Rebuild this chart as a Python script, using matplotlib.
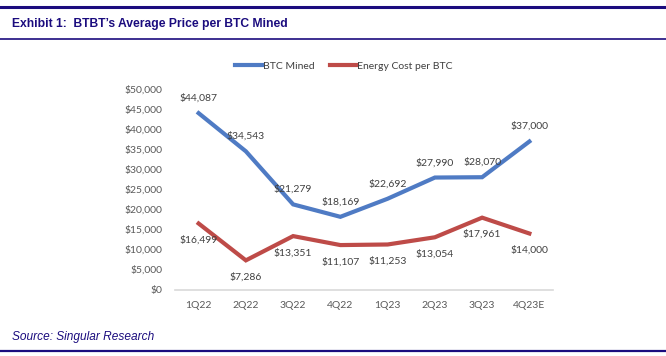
import matplotlib.pyplot as plt
from matplotlib.lines import Line2D

quarters = ['1Q22', '2Q22', '3Q22', '4Q22', '1Q23', '2Q23', '3Q23', '4Q23E']
btc_mined = [44087, 34543, 21279, 18169, 22692, 27990, 28070, 37000]
energy_cost = [16499, 7286, 13351, 11107, 11253, 13054, 17961, 14000]
y_ticks = [0, 5000, 10000, 15000, 20000, 25000, 30000, 35000, 40000, 45000, 50000]

W, H = 666, 356
navy = '#1B0C7E'
blue = '#4F7BC4'
red = '#BE4B48'
body_font = 'Lato'

fig = plt.figure(figsize=(W / 100, H / 100), dpi=100)

# header / footer rules
fig.add_artist(Line2D([0, 1], [1 - 6.5 / H, 1 - 6.5 / H], color=navy, lw=2.2))
fig.add_artist(Line2D([0, 1], [1 - 39 / H, 1 - 39 / H], color=navy, lw=1.2))
fig.add_artist(Line2D([0, 1], [1 - 351 / H, 1 - 351 / H], color=navy, lw=1.6))

fig.text(12 / W, 1 - 23.5 / H, "Exhibit 1:  BTBT\u2019s Average Price per BTC Mined",
         family='Liberation Sans', weight='bold', fontsize=8.7, color=navy,
         va='center', ha='left')
fig.text(12 / W, 1 - 337 / H, "Source: Singular Research",
         family='Liberation Sans', style='italic', fontsize=8.6, color=navy,
         va='center', ha='left')

ax = fig.add_axes([175 / W, (H - 289.5) / H, 378 / W, 200 / H])
x = range(len(quarters))
ax.plot(x, btc_mined, color=blue, lw=3, solid_joinstyle='miter', label='BTC Mined')
ax.plot(x, energy_cost, color=red, lw=3, solid_joinstyle='miter', label='Energy Cost per BTC')

for i, v in enumerate(btc_mined):
    ax.annotate(f'${v:,}', (i, v), xytext=(0, 15), textcoords='offset pixels',
                ha='center', va='center', fontsize=7.5, family=body_font, color='#404040')
for i, v in enumerate(energy_cost):
    ax.annotate(f'${v:,}', (i, v), xytext=(0, -16.5), textcoords='offset pixels',
                ha='center', va='center', fontsize=7.5, family=body_font, color='#404040')

ax.set_xlim(-0.5, 7.5)
ax.set_ylim(0, 50000)
ax.set_xticks(list(x))
ax.set_xticklabels(quarters)
ax.set_yticks(y_ticks)
ax.set_yticklabels([f'${t:,}' for t in y_ticks])
ax.tick_params(length=0, labelsize=7.5, labelcolor='#595959')
ax.tick_params(axis='y', pad=9)
ax.tick_params(axis='x', pad=8)
for lab in ax.get_xticklabels() + ax.get_yticklabels():
    lab.set_family(body_font)
for s in ['top', 'right', 'left']:
    ax.spines[s].set_visible(False)
ax.spines['bottom'].set_color('#D9D9D9')
ax.spines['bottom'].set_linewidth(1.2)

leg = fig.legend(loc='center', bbox_to_anchor=(344 / W, 1 - 66 / H), ncol=2, frameon=False,
                 handlelength=2.6, handletextpad=0.05, columnspacing=1.5,
                 prop={'family': body_font, 'size': 7.5})
for t in leg.get_texts():
    t.set_color('#404040')

fig.savefig('out.png', dpi=100)
